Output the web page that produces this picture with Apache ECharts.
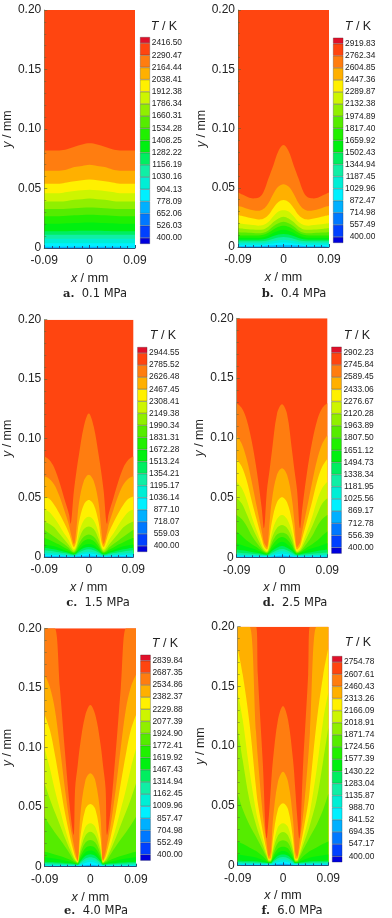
<!DOCTYPE html>
<html><head><meta charset="utf-8">
<style>html,body{margin:0;padding:0;background:#fff}#c{width:392px;height:918px}</style>
<script src="https://cdn.jsdelivr.net/npm/echarts@6/dist/echarts.min.js"></script>
</head><body><div id="c"></div>
<script>
const captionsBold = ['a.','b.','c.','d.','e.','f.'];
const pressures = ['0.1 MPa','0.4 MPa','1.5 MPa','2.5 MPa','4.0 MPa','6.0 MPa'];
const bandColors = ['#0000dd','#0040ff','#0078ff','#00b0ff','#00f0ff','#00eed5','#10eea5','#00ee60','#00f010','#20f000','#55ec00','#90ef00','#cdf500','#fff000','#ffb000','#ff7d10','#ff4510','#e0102a'];

const tempA = ['2416.50','2290.47','2164.44','2038.41','1912.38','1786.34','1660.31','1534.28','1408.25','1282.22','1156.19','1030.16','904.13','778.09','652.06','526.03','400.00'];
const tempB = ['2919.83','2762.34','2604.85','2447.36','2289.87','2132.38','1974.89','1817.40','1659.92','1502.43','1344.94','1187.45','1029.96','872.47','714.98','557.49','400.00'];
const tempC = ['2944.55','2785.52','2626.48','2467.45','2308.41','2149.38','1990.34','1831.31','1672.28','1513.24','1354.21','1195.17','1036.14','877.10','718.07','559.03','400.00'];
const tempD = ['2902.23','2745.84','2589.45','2433.06','2276.67','2120.28','1963.89','1807.50','1651.12','1494.73','1338.34','1181.95','1025.56','869.17','712.78','556.39','400.00'];
const tempE = ['2839.84','2687.35','2534.86','2382.37','2229.88','2077.39','1924.90','1772.41','1619.92','1467.43','1314.94','1162.45','1009.96','857.47','704.98','552.49','400.00'];
const tempF = ['2754.78','2607.61','2460.43','2313.26','2166.09','2018.91','1871.74','1724.56','1577.39','1430.22','1283.04','1135.87','988.70','841.52','694.35','547.17','400.00'];

// half-profiles: contour height y (mm) at |x| (mm), for contours from hottest to coolest
const xA = [0,.015,.03,.045,.06,.09];
const contoursA = [
[.088,.087,.085,.083,.082,.082],
[.070,.069,.068,.066,.065,.065],
[.0575,.057,.056,.055,.054,.054],
[.049,.0485,.048,.047,.046,.046],
[.0415,.041,.0405,.0395,.039,.039],
[.034,.0338,.0335,.033,.0327,.0327],
[.028,.0278,.0275,.027,.0266,.0266],
[.0215,.0213,.021,.0207,.0204,.0204],
[.0145,.0144,.0143,.0141,.014,.014],
[.0112,.0112,.0112,.0112,.0112,.0112],
[.0078,.0078,.0078,.0078,.0078,.0078],
[.004,.004,.004,.004,.004,.004],
[.001,.001,.001,.001,.001,.001]];

const xB = [0,.01,.02,.03,.04,.05,.06,.07,.08,.09];
const contoursB = [
[.086,.081,.069,.0575,.046,.0415,.041,.042,.044,.046],
[.053,.051,.045,.037,.032,.0305,.031,.032,.0335,.0345],
[.0397,.038,.033,.027,.0238,.0232,.024,.025,.026,.027],
[.031,.030,.026,.021,.0185,.018,.0185,.019,.0195,.02],
[.0256,.024,.021,.017,.0148,.0145,.0148,.015,.0155,.0158],
[.0214,.020,.0175,.014,.012,.0115,.0118,.012,.0122,.0124],
[.018,.017,.0148,.012,.0103,.0098,.0098,.0098,.0098,.0098],
[.0145,.0138,.012,.0097,.0082,.0078,.0078,.0078,.0078,.0078],
[.011,.0105,.0092,.0075,.0065,.0062,.0062,.0062,.0062,.0062],
[.0085,.008,.007,.0057,.005,.0048,.0048,.0048,.0048,.0048],
[.0062,.0058,.005,.0042,.0036,.0035,.0035,.0035,.0035,.0035],
[.0038,.0036,.003,.0025,.002,.0018,.0018,.0018,.0018,.0018],
[.0015,.0014,.0012,.001,.0008,.0006,.0006,.0006,.0006,.0006]];

const xC = [0,.01,.02,.025,.03,.037,.04,.05,.06,.07,.08,.09];
const contoursC = [
[.121,.110,.086,.072,.056,.028,.036,.050,.064,.0755,.082,.0847],
[.0693,.064,.045,.024,.011,.021,.027,.040,.052,.061,.066,.068],
[.048,.044,.029,.014,.0085,.016,.020,.029,.037,.044,.049,.051],
[.034,.031,.020,.010,.0065,.011,.014,.020,.027,.033,.038,.040],
[.0258,.0235,.015,.008,.0052,.008,.010,.015,.020,.025,.028,.030],
[.019,.017,.011,.0065,.0042,.006,.0075,.011,.014,.017,.020,.023],
[.015,.0135,.0085,.005,.0034,.0048,.0058,.008,.0105,.0125,.0145,.016],
[.011,.010,.0065,.004,.0028,.0036,.0044,.006,.0075,.009,.0098,.0105],
[.0085,.0075,.005,.0032,.0022,.0028,.0034,.0045,.0055,.0065,.0072,.0078],
[.0065,.0057,.0038,.0025,.0017,.0021,.0025,.0033,.004,.0047,.0052,.0056],
[.0045,.004,.0026,.0017,.0012,.0015,.0017,.0022,.0027,.0031,.0034,.0036],
[.0028,.0025,.0016,.001,.0007,.0009,.001,.0013,.0015,.0017,.0018,.002],
[.001,.0009,.0006,.0004,.0003,.0003,.0004,.0005,.0006,.0006,.0007,.0007]];

const xD = [0,.01,.02,.025,.03,.036,.04,.05,.06,.07,.08,.09];
const contoursD = [
[.128,.120,.089,.072,.056,.0243,.040,.072,.097,.115,.125,.129],
[.0745,.069,.048,.028,.0085,.0125,.0215,.042,.063,.082,.095,.102],
[.0502,.046,.030,.016,.0065,.0095,.0155,.031,.047,.064,.076,.0823],
[.0354,.032,.021,.011,.0052,.0075,.011,.022,.034,.048,.058,.0633],
[.027,.0245,.016,.0085,.0045,.006,.0085,.017,.026,.036,.045,.0494],
[.0206,.019,.012,.0065,.0038,.005,.0065,.012,.018,.026,.032,.0354],
[.017,.015,.0095,.0052,.0032,.0042,.0052,.0085,.011,.014,.018,.0215],
[.013,.011,.007,.0042,.0028,.0034,.0042,.0062,.0075,.0088,.0103,.0117],
[.0095,.008,.0052,.0032,.0022,.0026,.003,.0038,.0045,.0052,.0058,.0065],
[.007,.006,.0038,.0024,.0017,.002,.0022,.0026,.003,.0033,.0036,.004],
[.005,.0042,.0026,.0016,.0012,.0014,.0015,.0017,.0019,.002,.0022,.0024],
[.003,.0025,.0015,.001,.0008,.0009,.001,.0011,.0011,.0012,.0012,.0012],
[.0012,.001,.0006,.0004,.0003,.0003,.0004,.0004,.0004,.0004,.0004,.0004]];

const xE = [0,.01,.02,.025,.03,.033,.04,.05,.06,.0703,.08,.09];
const contoursE = [
[.1357,.127,.103,.085,.066,.0266,.048,.096,.150,.2,.2,.2],
[.0783,.072,.042,.005,.0125,.019,.035,.065,.100,.133,.151,.161],
[.0526,.048,.024,.0045,.0085,.013,.025,.045,.070,.095,.115,.1273],
[.0364,.033,.017,.004,.0065,.0095,.018,.032,.048,.065,.083,.099],
[.0294,.026,.0135,.0035,.0055,.0075,.014,.024,.035,.046,.057,.070],
[.0224,.020,.0105,.003,.0045,.0055,.0105,.017,.023,.029,.035,.042],
[.0173,.0155,.008,.0026,.0035,.0042,.0058,.0075,.009,.0102,.0115,.0125],
[.0135,.012,.006,.0022,.0028,.0032,.0042,.0052,.006,.0068,.0075,.008],
[.0105,.009,.0045,.0018,.0022,.0025,.0028,.0032,.0035,.0038,.004,.0042],
[.008,.0068,.0034,.0015,.0016,.0018,.002,.0022,.0024,.0026,.0028,.003],
[.006,.005,.0025,.0012,.0012,.0013,.0014,.0015,.0016,.0017,.0018,.0018],
[.004,.0032,.0016,.0008,.0008,.0008,.0009,.001,.001,.001,.001,.001],
[.0015,.0012,.0006,.0003,.0003,.0003,.0004,.0004,.0004,.0004,.0004,.0004]];

const xF = [0,.01,.02,.024,.028,.0324,.04,.05,.0536,.0668,.08,.09];
const contoursF = [
[.1335,.122,.088,.066,.042,.0226,.085,.16,.2,.2,.2,.2],
[.0785,.070,.038,.012,.007,.018,.042,.09,.112,.2,.2,.2],
[.052,.047,.022,.006,.0055,.012,.028,.052,.065,.12,.16,.182],
[.0352,.032,.015,.005,.0045,.010,.022,.038,.045,.08,.122,.145],
[.028,.025,.012,.004,.0038,.008,.017,.029,.034,.055,.088,.115],
[.021,.019,.009,.0034,.0032,.0065,.013,.021,.024,.034,.047,.06],
[.0156,.014,.0068,.0028,.0026,.0042,.0075,.011,.012,.015,.018,.02],
[.012,.0105,.0052,.0023,.0022,.003,.0045,.006,.0065,.0075,.0085,.009],
[.009,.008,.004,.0019,.0018,.0022,.0028,.0032,.0034,.0036,.0037,.0038],
[.007,.006,.003,.0016,.0015,.0017,.002,.0023,.0024,.0025,.0026,.0027],
[.005,.0043,.0022,.0012,.0012,.0013,.0014,.0015,.0016,.0017,.0017,.0018],
[.003,.0026,.0014,.0008,.0008,.0008,.0009,.001,.001,.001,.001,.001],
[.0012,.001,.0005,.0003,.0003,.0003,.0004,.0004,.0004,.0004,.0004,.0004]];

const yTicks = {min:0,max:0.2,interval:0.05};

// layout only
const L = [
 {l:43.5,r:135,t:10,b:248, cl:140,cr:150,ct:37,cb:244, tx:164,ty:27, cx:95,cy:294},
 {l:238,r:329,t:10,b:247, cl:333,cr:343.3,ct:37.7,cb:243, tx:358,ty:27, cx:294,cy:294},
 {l:42.3,r:133.3,t:319.7,b:557, cl:137.3,cr:147.3,ct:347,cb:552, tx:163,ty:336, cx:98,cy:603},
 {l:236.7,r:327.3,t:318.3,b:557.3, cl:331.3,cr:341.7,ct:346.7,cb:553.7, tx:357,ty:336, cx:295,cy:603},
 {l:44.7,r:136,t:628.3,b:866.7, cl:140.3,cr:150.7,ct:654.7,cb:860.7, tx:165,ty:644, cx:96,cy:911},
 {l:237.7,r:328.3,t:626.7,b:865.3, cl:332,cr:342.3,ct:656,cb:862.3, tx:358,ty:643, cx:292,cy:911}
];
const xs=[xA,xB,xC,xD,xE,xF], cs=[contoursA,contoursB,contoursC,contoursD,contoursE,contoursF], ts=[tempA,tempB,tempC,tempD,tempE,tempF];
const font='"Liberation Sans",Arial,sans-serif';
const rich={i:{fontFamily:font,fontStyle:'italic',fontWeight:'normal',fontSize:12.5,color:'#222'},n:{fontFamily:font,fontWeight:'normal',fontSize:12.5,color:'#222'}};
const W=392,H=918;
const opt={animation:false,backgroundColor:'#fff',grid:[],xAxis:[],yAxis:[],series:[],title:[]};
L.forEach((p,i)=>{
  const g=opt.grid.length;
  opt.grid.push({left:p.l,top:p.t,width:p.r-p.l,height:p.b-p.t,containLabel:false});
  const ax=opt.xAxis.length, ay=opt.yAxis.length;
  opt.xAxis.push({gridIndex:g,type:'value',min:-0.09,max:0.09,interval:0.09,z:10,
    splitLine:{show:false},
    axisLine:{show:true,onZero:false,lineStyle:{color:'#24507a',width:1}},
    axisTick:{show:true,inside:true,length:3,lineStyle:{color:'#24507a'}},
    minorTick:{show:true,splitNumber:6,length:2,lineStyle:{color:'#24507a'}},
    axisLabel:{margin:7,fontFamily:font,fontSize:12,color:'#222',formatter:v=>Math.abs(v)<1e-9?'0':v.toFixed(2)},
    name:'{i|x}{n| / mm}',nameLocation:'middle',nameGap:24,nameTextStyle:{rich}});
  opt.yAxis.push({gridIndex:g,type:'value',min:yTicks.min,max:yTicks.max,interval:yTicks.interval,z:10,
    splitLine:{show:false},
    axisLine:{show:true,onZero:false,lineStyle:{color:'#55663a',width:0.5}},
    axisTick:{show:true,inside:true,length:3,lineStyle:{color:'#55663a',width:0.6}},
    minorTick:{show:true,splitNumber:5,length:2,lineStyle:{color:'#55663a',width:0.5}},
    axisLabel:{margin:3,padding:[3,0,0,0],fontFamily:font,fontSize:12,color:'#222',formatter:v=>v===0?'0':v.toFixed(2)},
    name:'{i|y}{n| / mm}',nameLocation:'middle',nameGap:24,nameRotate:90,nameTextStyle:{rich}});
  const full=(arr)=>{ // mirror half-profile
    const out=[];
    for(let k=xs[i].length-1;k>0;k--) out.push([-xs[i][k],arr[k]]);
    for(let k=0;k<xs[i].length;k++) out.push([xs[i][k],arr[k]]);
    return out;
  };
  const top=xs[i].map(()=>yTicks.max);
  [top,...cs[i]].forEach((row,k)=>{
    opt.series.push({type:'line',xAxisIndex:ax,yAxisIndex:ay,data:full(row),symbol:'none',silent:true,
      smooth:0.35,lineStyle:{width:0},areaStyle:{origin:'start',opacity:1,color:bandColors[16-k]},z:2+k*0.01});
  });
  // colour bar
  const g2=opt.grid.length;
  opt.grid.push({left:p.cl,top:p.ct,width:p.cr-p.cl,height:p.cb-p.ct,containLabel:false});
  const cx=opt.xAxis.length, cy0=opt.yAxis.length;
  opt.xAxis.push({gridIndex:g2,type:'category',data:['T'],show:false});
  opt.yAxis.push({gridIndex:g2,type:'category',position:'right',data:ts[i].slice().reverse(),
    axisLine:{show:false},axisTick:{show:false},splitLine:{show:false},
    axisLabel:{interval:0,align:'right',margin:32,fontFamily:font,fontSize:8.4,color:'#222'}});
  opt.yAxis.push({gridIndex:g2,type:'value',min:0,max:17,show:false,splitLine:{show:false}});
  bandColors.forEach((c,k)=>{
    opt.series.push({type:'bar',xAxisIndex:cx,yAxisIndex:cy0+1,stack:'bar'+i,barWidth:'100%',silent:true,
      data:[(k===0||k===17)?0.5:1],itemStyle:{color:c,borderColor:'rgba(40,40,40,.55)',borderWidth:0.5}});
  });
  opt.title.push({text:'{i|T}{n| / K}',left:p.tx,top:p.ty,textAlign:'center',textVerticalAlign:'middle',padding:0,textStyle:{fontWeight:'normal',rich}});
  opt.title.push({text:'{b|'+captionsBold[i]+'}{s|  '+pressures[i]+'}',left:p.cx,top:p.cy,textAlign:'center',textVerticalAlign:'middle',padding:0,
    textStyle:{fontWeight:'normal',rich:{b:{fontFamily:'"DejaVu Serif",serif',fontWeight:'bold',fontSize:11.5,color:'#222'},s:{fontFamily:'"DejaVu Sans",sans-serif',fontWeight:'normal',fontSize:11.5,color:'#222'}}}});
});
const chart=echarts.init(document.getElementById('c'),null,{renderer:'canvas',width:W,height:H});
chart.setOption(opt);
</script></body></html>
